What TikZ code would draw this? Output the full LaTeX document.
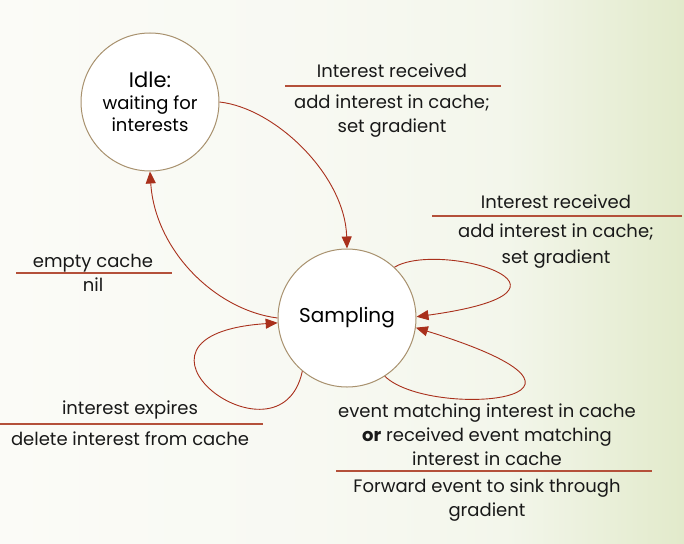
\documentclass[tikz,border=0pt]{standalone}
\usepackage{fontspec}
\setmainfont{Poppins}
\usetikzlibrary{arrows.meta}
\definecolor{ringbrown}{HTML}{A8916E}
\definecolor{arrowred}{HTML}{A9301C}
\definecolor{rulered}{HTML}{B4503A}
\definecolor{bgwhite}{HTML}{FBFBF7}
\definecolor{bgmid}{HTML}{F3F6EB}
\definecolor{bggreen}{HTML}{E2EACB}
\pgfdeclarehorizontalshading{bgfade}{100bp}{color(0bp)=(bgwhite); color(25bp)=(bgwhite); color(48bp)=(bgwhite!60!bgmid); color(62bp)=(bgmid); color(75bp)=(bggreen); color(100bp)=(bggreen)}
\tikzset{
  state/.style={draw=ringbrown, line width=1pt, fill=white, circle, minimum size=138pt, inner sep=0pt, align=center, font=\fontsize{18}{22}\selectfont},
  trans/.style={draw=arrowred, line width=0.9pt, -{Triangle[length=12pt,width=10pt]}},
  cond/.style={font=\fontsize{18}{24}\selectfont, align=center, inner sep=0pt, text=black!90},
  bar/.style={draw=rulered, line width=1.1pt}
}
\begin{document}
\begin{tikzpicture}[x=1pt,y=-1pt]
\shade [shading=bgfade] (0,0) rectangle (684,543);
\useasboundingbox (0,0) rectangle (684,543);
% states
\node (idle) [state] at (150,102) {{\fontsize{21}{24}\selectfont Idle:}\\waiting for\\interests};
\node (sampling) [state] at (347,318) {\fontsize{20}{24}\selectfont Sampling};
% transitions
\draw [trans] (idle.0) .. controls (275,108) and (345,175) .. (sampling.90);
\draw [trans] (sampling.180) .. controls (215,310) and (155,250) .. (idle.270);
\draw [trans] (sampling.47) .. controls (440,240) and (610,290) .. (sampling.1);
\draw [trans] (sampling.303) .. controls (430,420) and (650,400) .. (sampling.352);
\draw [trans] (sampling.230) .. controls (280,475) and (95,335) .. (sampling.184);
% labels
\node (recvcond) [cond] at (392,71) {Interest received};
\node (recvact) [cond] at (392,116) {add interest in cache;\\set gradient};
\draw [bar] (285,86) -- (501,86);
\node (againcond) [cond] at (556,202) {Interest received};
\node (againact) [cond] at (556,246) {add interest in cache;\\[2pt]set gradient};
\draw [bar] (432,216) -- (682,216);
\node (emptycond) [cond] at (93,263) {empty cache};
\node (emptyact) [cond] at (93,285) {nil};
\draw [bar] (16,273) -- (172,273);
\node (expcond) [cond] at (130,410) {interest expires};
\node (expact) [cond] at (130,439) {delete interest from cache};
\draw [bar] (0,424) -- (263,424);
\node (eventcond) [cond] at (487,435) {event matching interest in cache\\\textbf{or} received event matching\\interest in cache};
\node (eventact) [cond] at (487,500) {Forward event to sink through\\gradient};
\draw [bar] (336,471) -- (652,471);
\end{tikzpicture}
\end{document}
